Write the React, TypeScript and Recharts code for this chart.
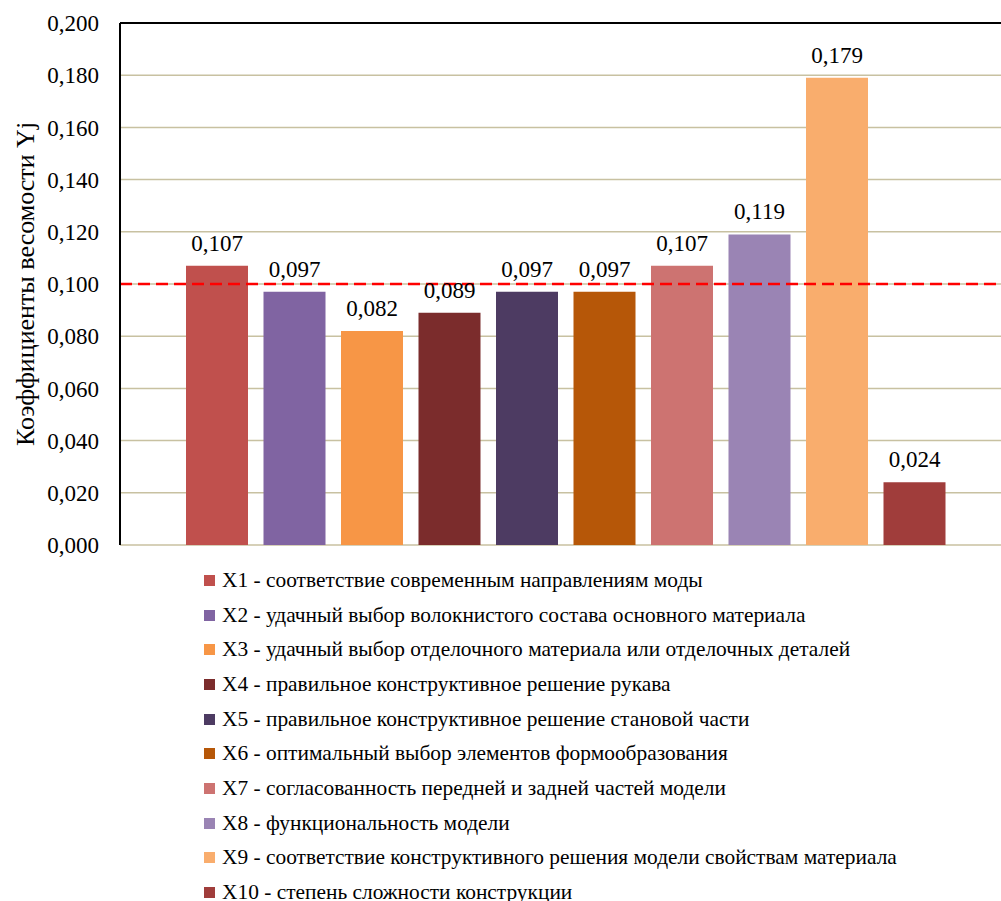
import React from 'react';
import {
  BarChart,
  Bar,
  XAxis,
  YAxis,
  CartesianGrid,
  ReferenceLine,
  LabelList,
  Legend,
} from 'recharts';

// Criteria (one bar each) and their weight coefficients Yj
const criteria = [
  'X1 - соответствие современным направлениям моды',
  'X2 - удачный выбор волокнистого состава основного материала',
  'X3 - удачный выбор отделочного материала или отделочных деталей',
  'X4 - правильное конструктивное решение рукава',
  'X5 - правильное конструктивное решение становой части',
  'X6 - оптимальный выбор элементов формообразования',
  'X7 - согласованность передней и задней частей модели',
  'X8 - функциональность модели',
  'X9 - соответствие конструктивного решения модели свойствам материала',
  'X10 - степень сложности конструкции',
];

const weights = [0.107, 0.097, 0.082, 0.089, 0.097, 0.097, 0.107, 0.119, 0.179, 0.024];

const colors = [
  '#C0504D',
  '#8064A2',
  '#F79646',
  '#7B2C2C',
  '#4D3B62',
  '#B65708',
  '#CD7371',
  '#9A84B4',
  '#F9AD6D',
  '#A03D3B',
];

const yTicks = [0, 0.02, 0.04, 0.06, 0.08, 0.1, 0.12, 0.14, 0.16, 0.18, 0.2];
const threshold = 0.1;

const FONT = 'Liberation Serif';

const fmt = (v: number) => v.toFixed(3).replace('.', ',');

// one category row holding every criterion as its own series
const row: Record<string, number | string> = { name: '' };
weights.forEach((w, i) => {
  row[`s${i}`] = w;
});
const data = [row];

const LegendList = () => (
  <div style={{ fontFamily: FONT, fontSize: 21.4, color: '#000' }}>
    {criteria.map((c, i) => (
      <div
        key={c}
        style={{ height: 34.7, display: 'flex', alignItems: 'center', whiteSpace: 'nowrap' }}
      >
        <span
          style={{
            display: 'inline-block',
            width: 11,
            height: 11,
            background: colors[i],
            marginLeft: 4,
            marginRight: 7,
          }}
        />
        <span>{c}</span>
      </div>
    ))}
  </div>
);

export default function App() {
  return (
    <div
      style={{
        position: 'absolute',
        left: 0,
        top: 0,
        width: 1001,
        height: 901,
        overflow: 'hidden',
        background: '#fff',
        fontFamily: FONT,
      }}
    >
      <BarChart
        width={1030}
        height={901}
        data={data}
        margin={{ top: 23, right: 19, left: 0, bottom: 356 }}
        barSize={62}
        barGap={15.5}
        style={{ fontFamily: FONT }}
      >
        <CartesianGrid vertical={false} stroke="#C8C1A1" strokeWidth={1.5} />
        <XAxis
          dataKey="name"
          tick={false}
          tickLine={false}
          height={0}
          axisLine={{ stroke: '#000', strokeWidth: 2 }}
        />
        <YAxis
          width={120}
          domain={[0, 0.2]}
          ticks={yTicks}
          tickFormatter={fmt}
          tickLine={false}
          tickSize={6}
          tickMargin={15}
          axisLine={{ stroke: '#000', strokeWidth: 2 }}
          tick={{ fill: '#000', fontFamily: FONT, fontSize: 23 }}
          label={{
            value: 'Коэффициенты весомости Yj',
            angle: -90,
            position: 'center',
            dx: -35,
            fill: '#000',
            fontFamily: FONT,
            fontSize: 26,
          }}
        />
        {weights.map((_, i) => (
          <Bar key={i} dataKey={`s${i}`} name={criteria[i]} fill={colors[i]} isAnimationActive={false}>
            <LabelList
              dataKey={`s${i}`}
              position="top"
              offset={15}
              formatter={(v: any) => fmt(Number(v))}
              fill="#000"
              fontFamily={FONT}
              fontSize={23}
            />
          </Bar>
        ))}
        <ReferenceLine y={0.2} stroke="#000" strokeWidth={2} />
        <ReferenceLine y={threshold} stroke="#FF0000" strokeWidth={2.5} strokeDasharray="12 6" />
        <Legend
          layout="vertical"
          align="center"
          verticalAlign="middle"
          content={() => <LegendList />}
          wrapperStyle={{ left: 200, top: 563, width: 800 }}
        />
      </BarChart>
    </div>
  );
}
